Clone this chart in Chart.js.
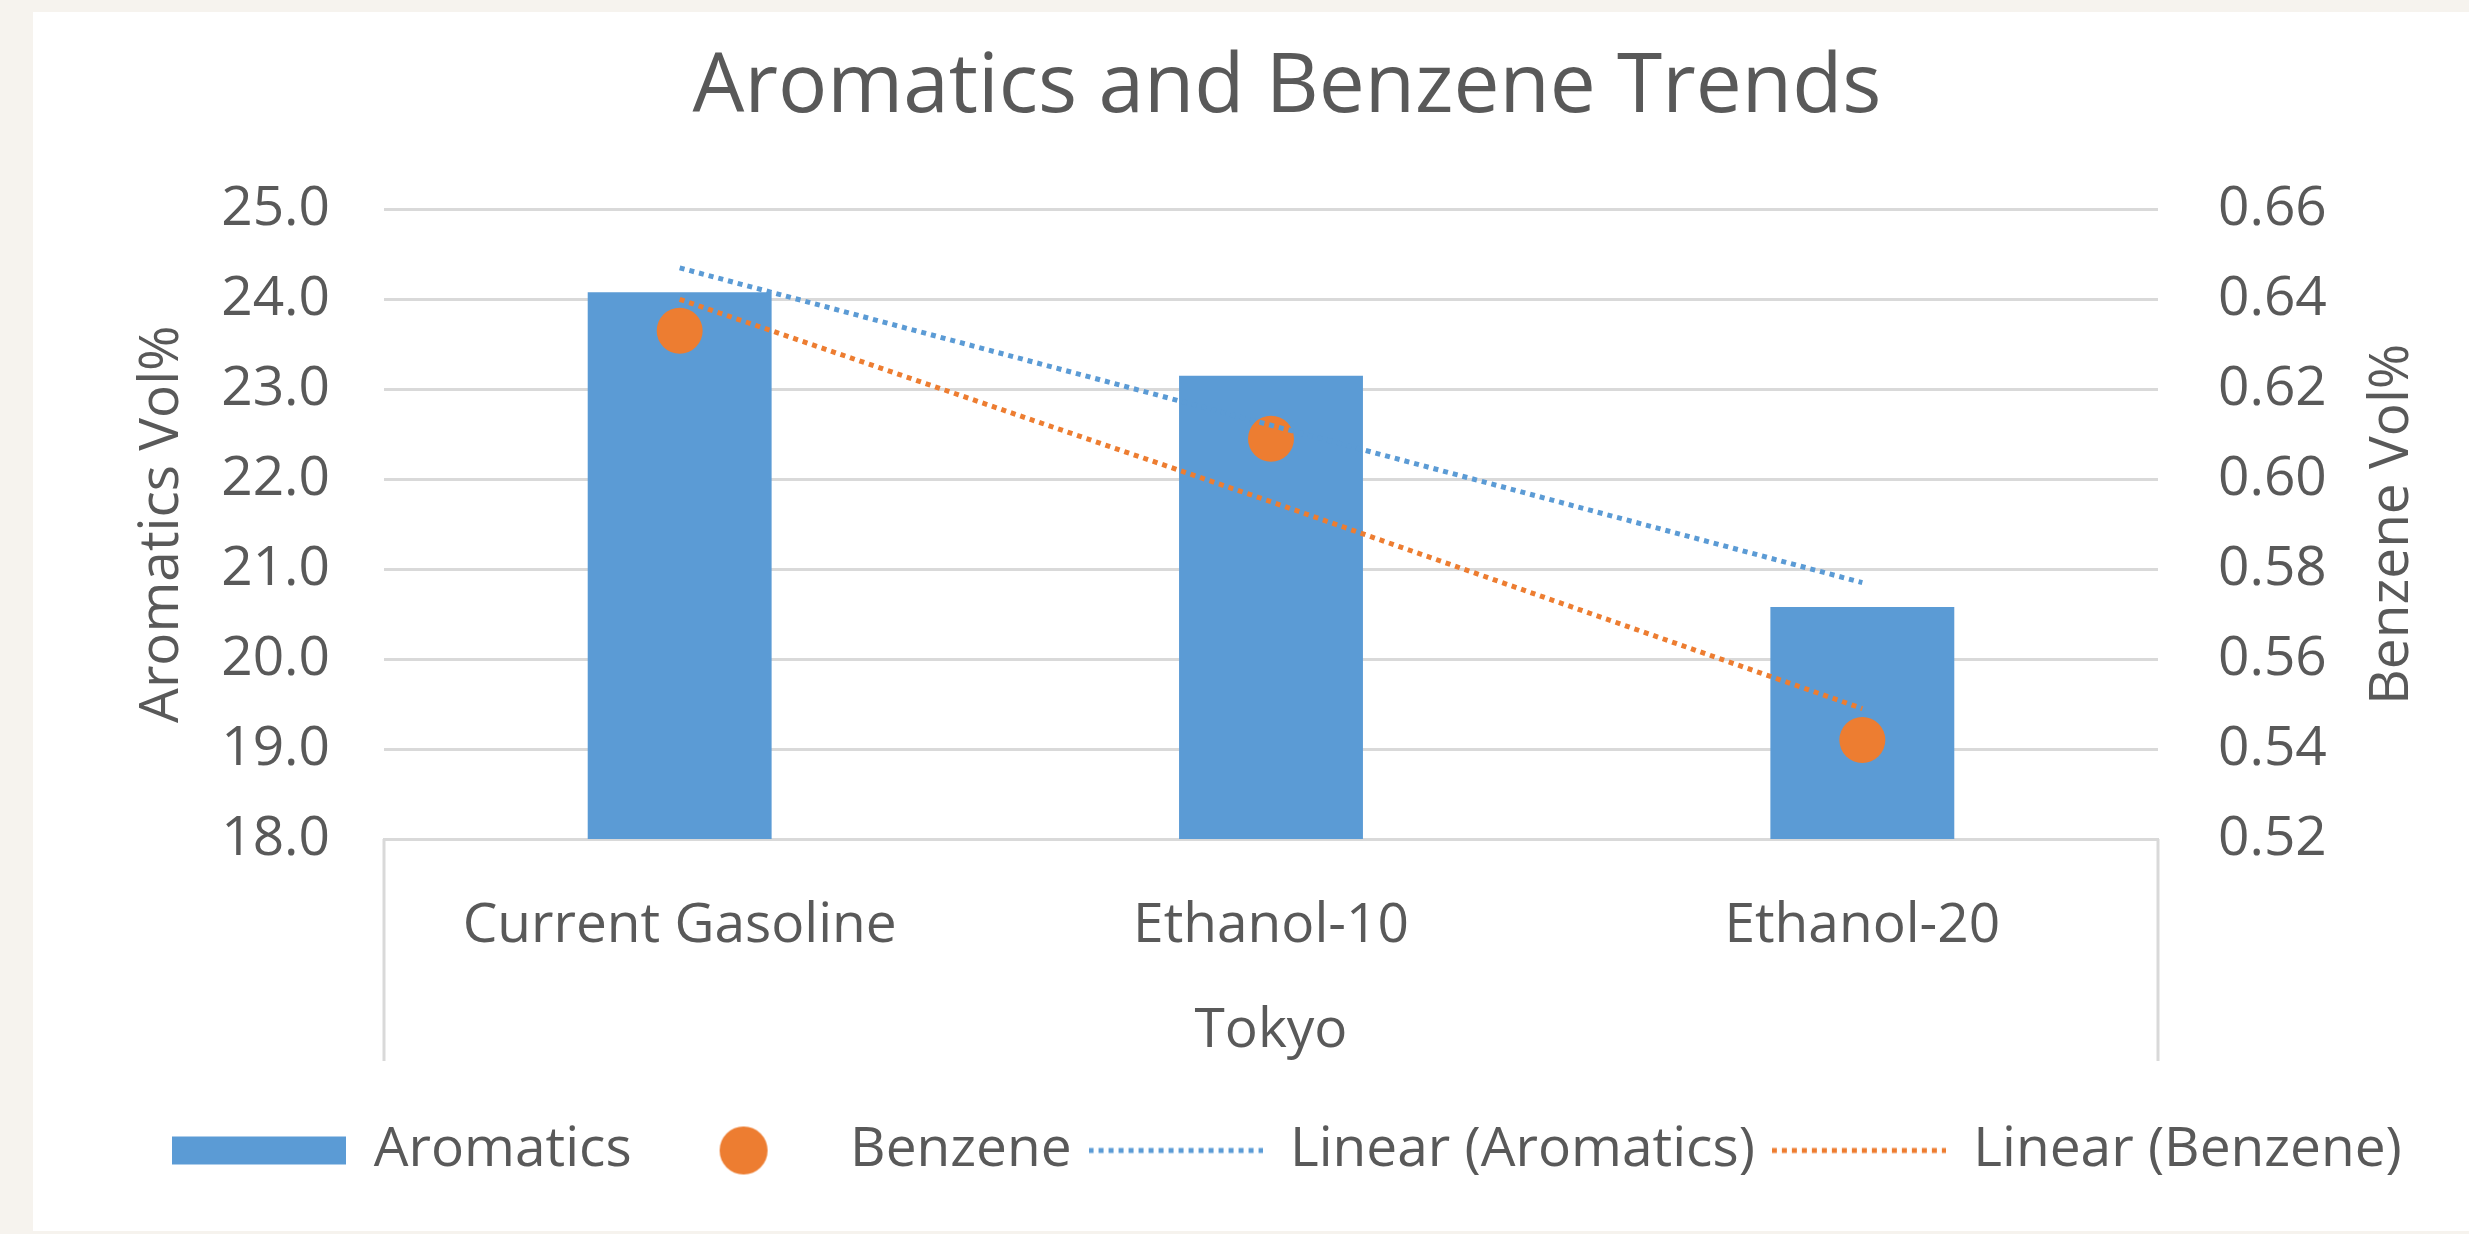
<!DOCTYPE html>
<html><head><meta charset="utf-8">
<script src="https://cdn.jsdelivr.net/npm/chart.js@4.4.0/dist/chart.umd.min.js"></script>
<style>
html,body{margin:0;padding:0;background:#f6f3ee;width:2469px;height:1234px;overflow:hidden}
#wrap{position:absolute;left:33px;top:12px;width:2436px;height:1219px;background:#fff}
</style></head><body>
<div id="wrap"><canvas id="c"></canvas></div>
<script>
// ---- data ----
const categories = ['Current Gasoline', 'Ethanol-10', 'Ethanol-20'];
const aromatics = [24.08, 23.15, 20.58];
const benzene = [0.633, 0.609, 0.542];
const linearAromatics = [24.35, 22.60, 20.85];
const linearBenzene = [0.640, 0.595, 0.549];
const leftTickLabels = ['18.0', '19.0', '20.0', '21.0', '22.0', '23.0', '24.0', '25.0'];
const rightTickLabels = ['0.52', '0.54', '0.56', '0.58', '0.60', '0.62', '0.64', '0.66'];
const seriesNames = ['Aromatics', 'Benzene', 'Linear (Aromatics)', 'Linear (Benzene)'];
const chartTitle = 'Aromatics and Benzene Trends';
const leftTitle = 'Aromatics Vol%';
const rightTitle = 'Benzene Vol%';
const xTitle = 'Tokyo';

const BLUE = '#5b9bd5', ORANGE = '#ed7d31', TXT = '#595959', GRID = '#d9d9d9';
const FONT = '"Open Sans", sans-serif';

function symbol(kind, color) {
  const c = document.createElement('canvas');
  c.width = 174; c.height = 56;
  const g = c.getContext('2d');
  if (kind === 'bar') { g.fillStyle = color; g.fillRect(0, 14, 174, 28); }
  else if (kind === 'dot') { g.fillStyle = color; g.beginPath(); g.arc(95, 28, 24, 0, Math.PI * 2); g.fill(); }
  else { g.strokeStyle = color; g.lineWidth = 5; g.setLineDash([5, 5]); g.beginPath(); g.moveTo(0, 28); g.lineTo(174, 28); g.stroke(); }
  return c;
}

const extras = {
  id: 'extras',
  afterDraw(chart) {
    const { ctx, chartArea: a } = chart;
    const xs = chart.scales.x, s1 = chart.scales.y1;
    ctx.save();
    ctx.strokeStyle = GRID; ctx.lineWidth = 3;
    ctx.beginPath();
    ctx.moveTo(a.left, a.bottom); ctx.lineTo(a.left, xs.bottom - 45);
    ctx.moveTo(a.right, a.bottom); ctx.lineTo(a.right, xs.bottom - 45);
    ctx.stroke();
    ctx.translate(s1.right - 77, (a.top + a.bottom) / 2);
    ctx.rotate(-Math.PI / 2);
    ctx.font = '55px ' + FONT; ctx.fillStyle = TXT;
    ctx.textAlign = 'center'; ctx.textBaseline = 'middle';
    ctx.fillText(rightTitle, 0, 0);
    ctx.restore();
  }
};

new Chart(document.getElementById('c'), {
  data: {
    labels: categories,
    datasets: [
      { type: 'line', label: seriesNames[2], data: linearAromatics, yAxisID: 'y', borderColor: BLUE, borderWidth: 5, borderDash: [5, 5], pointRadius: 0, fill: false, tension: 0, order: 1 },
      { type: 'line', label: seriesNames[3], data: linearBenzene, yAxisID: 'y1', borderColor: ORANGE, borderWidth: 5, borderDash: [5, 5], pointRadius: 0, fill: false, tension: 0, order: 2 },
      { type: 'line', label: seriesNames[1], data: benzene, yAxisID: 'y1', showLine: false, pointRadius: 23, pointHoverRadius: 23, pointBackgroundColor: ORANGE, pointBorderWidth: 0, borderColor: ORANGE, order: 3 },
      { type: 'bar', label: seriesNames[0], data: aromatics, yAxisID: 'y', backgroundColor: BLUE, barPercentage: 0.311, categoryPercentage: 1, order: 4 }
    ]
  },
  options: {
    responsive: true, maintainAspectRatio: false, animation: false, events: [],
    layout: { padding: { left: 72, right: 0, top: 0, bottom: 43 } },
    plugins: {
      tooltip: { enabled: false },
      title: { display: true, text: chartTitle, color: TXT, font: { family: FONT, size: 82, weight: 'normal' }, padding: { top: 27, bottom: 72 } },
      legend: {
        position: 'bottom',
        labels: {
          usePointStyle: true, pointStyleWidth: 174, padding: 17, color: TXT,
          font: { family: FONT, size: 55 },
          generateLabels: () => [
            { text: seriesNames[0], pointStyle: symbol('bar', BLUE), fillStyle: BLUE, lineWidth: 0, hidden: false, datasetIndex: 3, fontColor: TXT },
            { text: seriesNames[1], pointStyle: symbol('dot', ORANGE), fillStyle: ORANGE, lineWidth: 0, hidden: false, datasetIndex: 2, fontColor: TXT },
            { text: seriesNames[2], pointStyle: symbol('line', BLUE), fillStyle: BLUE, lineWidth: 0, hidden: false, datasetIndex: 0, fontColor: TXT },
            { text: seriesNames[3], pointStyle: symbol('line', ORANGE), fillStyle: ORANGE, lineWidth: 0, hidden: false, datasetIndex: 1, fontColor: TXT }
          ]
        }
      }
    },
    scales: {
      x: {
        grid: { display: false },
        border: { display: true, color: GRID, width: 3 },
        ticks: { color: TXT, font: { family: FONT, size: 55 }, padding: 46 },
        title: { display: true, text: xTitle, color: TXT, font: { family: FONT, size: 55 }, padding: { top: 0, bottom: 42 } },
        afterFit: s => { s.height = 267; }
      },
      y: {
        position: 'left', min: 18, max: 25,
        grid: { color: GRID, lineWidth: 3, drawTicks: false },
        border: { display: false },
        ticks: { stepSize: 1, color: TXT, font: { family: FONT, size: 55 }, padding: 54, callback: (v, i) => leftTickLabels[i] },
        title: { display: true, text: leftTitle, color: TXT, font: { family: FONT, size: 55 }, padding: { top: 24, bottom: 0 } },
        afterFit: s => { s.width = 279; }
      },
      y1: {
        position: 'right', min: 0.52, max: 0.66,
        grid: { display: false, drawTicks: false },
        border: { display: false },
        ticks: { stepSize: 0.02, color: TXT, font: { family: FONT, size: 55 }, padding: 60, callback: (v, i) => rightTickLabels[i] },
        afterFit: s => { s.width = 311; }
      }
    }
  },
  plugins: [extras]
});
</script>
</body></html>
